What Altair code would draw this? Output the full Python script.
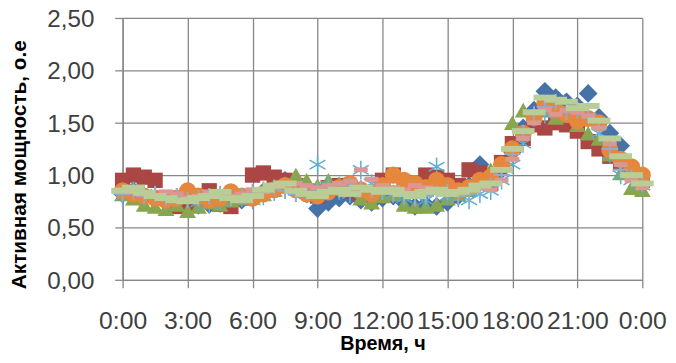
import altair as alt
import pandas as pd

# time grid (hours, half-hour steps)
hours = [i * 0.5 for i in range(49)]

s1_diamond = [0.82,0.85,0.80,0.78,0.74,0.72,0.70,0.71,0.72,0.73,
              0.74,0.76,0.80,0.84,0.90,0.95,0.88,0.82,0.68,0.74,
              0.78,0.80,0.76,0.74,0.78,0.80,0.74,0.70,0.72,0.70,
              0.74,0.80,0.90,1.10,0.98,1.05,1.22,1.45,1.62,1.80,
              1.74,1.70,1.66,1.78,1.55,1.40,1.28,1.05,0.92]
s2_square = [0.95,1.00,0.98,0.95,0.78,0.70,0.72,0.80,0.85,0.72,
             0.70,0.78,1.00,1.02,0.98,0.95,0.90,0.85,0.80,0.88,
             0.90,0.85,0.82,0.80,0.95,1.00,0.92,0.88,1.00,0.98,
             0.95,0.90,1.05,1.02,0.92,1.12,1.30,1.35,1.48,1.45,
             1.50,1.48,1.42,1.32,1.25,1.18,1.12,1.05,0.95]
s3_triangle = [0.82,0.78,0.72,0.70,0.68,0.72,0.66,0.70,0.74,0.72,
               0.76,0.78,0.80,0.82,0.86,0.92,1.00,0.95,0.90,0.95,
               0.92,0.88,0.78,0.74,0.80,0.82,0.72,0.70,0.70,0.72,
               0.78,0.82,0.86,0.95,1.05,1.12,1.50,1.62,1.58,1.62,
               1.55,1.57,1.48,1.40,1.35,1.20,1.02,0.88,0.86]
s5_star = [0.80,0.85,0.82,0.78,0.75,0.78,0.80,0.74,0.72,0.75,
           0.80,0.78,0.76,0.80,0.84,0.88,0.85,0.82,1.10,0.90,
           0.85,0.82,1.05,0.92,0.88,0.82,0.78,0.80,0.76,1.08,
           0.80,0.78,0.76,0.82,0.85,0.95,1.10,1.30,1.55,1.58,
           1.62,1.60,1.58,1.55,1.40,1.20,1.00,0.95,0.90]
s6_circle = [0.85,0.82,0.80,0.78,0.76,0.78,0.85,0.80,0.76,0.78,
             0.84,0.80,0.78,0.82,0.86,0.90,0.86,0.82,0.80,0.84,
             0.88,0.92,0.86,0.82,0.90,1.00,0.95,0.92,0.88,0.95,
             0.90,0.85,0.88,0.95,0.98,1.10,1.25,1.40,1.55,1.68,
             1.62,1.58,1.52,1.54,1.50,1.24,1.15,1.08,1.00]
s7_plus = [0.82,0.84,0.80,0.82,0.78,0.80,0.76,0.78,0.80,0.82,
           0.78,0.80,0.84,0.86,0.88,0.85,0.82,0.84,0.86,0.88,
           0.86,0.90,0.88,0.86,0.84,0.82,0.80,0.78,0.80,0.82,
           0.84,0.80,0.82,0.86,0.90,1.00,1.20,1.40,1.58,1.65,
           1.70,1.60,1.62,1.58,1.45,1.25,1.05,0.98,0.92]
s8_dash = [0.86,0.84,0.82,0.80,0.84,0.82,0.78,0.80,0.84,0.82,
           0.80,0.82,0.86,0.84,0.88,0.90,0.92,0.90,0.88,0.90,
           0.92,0.94,1.05,0.96,0.90,0.88,0.86,0.90,0.88,0.86,
           0.84,0.82,0.86,0.88,0.86,0.95,1.15,1.35,1.50,1.62,
           1.58,1.62,1.60,1.56,1.45,1.30,1.10,0.95,0.88]
s9_longdash = [0.85,0.88,0.83,0.80,0.78,0.76,0.75,0.78,0.80,0.84,
               0.78,0.76,0.80,0.86,0.90,0.92,0.85,0.82,0.80,0.84,
               0.86,0.82,0.88,0.86,0.84,0.86,0.82,0.80,0.84,0.86,
               0.82,0.84,0.86,0.90,0.92,1.05,1.25,1.42,1.60,1.74,
               1.72,1.70,1.64,1.66,1.52,1.35,1.18,1.00,0.92]

x_ticks = [0, 3, 6, 9, 12, 15, 18, 21, 24]
y_ticks = [0, 0.5, 1.0, 1.5, 2.0, 2.5]

series = [
    ("s1", s1_diamond), ("s2", s2_square), ("s3", s3_triangle),
    ("s5", s5_star), ("s6", s6_circle), ("s7", s7_plus),
    ("s8", s8_dash), ("s9", s9_longdash),
]
rows = []
for name, vals in series:
    for h, v in zip(hours, vals):
        rows.append({"series": name, "hour": h, "value": v})
df = pd.DataFrame(rows)

x_enc = alt.X("hour:Q",
              scale=alt.Scale(domain=[0, 24], nice=False, zero=False),
              axis=alt.Axis(values=x_ticks, labelExpr="(datum.value % 24) + ':00'",
                            title="Время, ч", labelPadding=21, labelFlush=False,
                            labelOverlap=False, labelFontSize=25,
                            titleX=263, titleY=65, titleFontSize=20,
                            titleBaseline="middle", titleAlign="center"))
y_enc = alt.Y("value:Q",
              scale=alt.Scale(domain=[0, 2.5], nice=False),
              axis=alt.Axis(values=y_ticks,
                            labelExpr="replace(format(datum.value, '.2f'), '.', ',')",
                            title="Активная мощность, о.е", labelPadding=21,
                            labelFontSize=24.5, labelOffset=1.5,
                            titleX=-104, titleY=148, titleAngle=270,
                            titleBaseline="middle", titleAlign="center"))

base = alt.Chart(df).encode(x=x_enc, y=y_enc)

def layer(name, **mark):
    return base.transform_filter(alt.datum.series == name).mark_point(opacity=1, **mark)

chart = alt.layer(
    layer("s1", shape="diamond", filled=True, size=360, color="#4572A7"),
    layer("s2", shape="square", filled=True, size=240, color="#AA4643"),
    layer("s3", shape="triangle-up", filled=True, size=290, color="#89A54E"),
    layer("s5", shape="M0,-1V1M-0.87,-0.5L0.87,0.5M-0.87,0.5L0.87,-0.5",
          filled=False, size=340, strokeWidth=1.5, color="#5AAFD0"),
    layer("s6", shape="circle", filled=True, size=300, color="#E5873C"),
    layer("s7", shape="M-1,0H1M0,-1V1", filled=False, size=270,
          strokeWidth=2, color="#93A9CF"),
    layer("s8", shape="M-1,-0.35H1V0.35H-1Z", filled=True, size=196, color="#D99795"),
    layer("s9", shape="M-1,-0.26H1V0.26H-1Z", filled=True, size=529, color="#B9CD96"),
).properties(
    width=526, height=265,
    autosize=alt.AutoSizeParams(type="none"),
    padding={"left": 116, "top": 8, "right": 26, "bottom": 74},
).configure_view(strokeWidth=0).configure_axis(
    gridColor="#878787", gridWidth=1.3, domainColor="#878787", domainWidth=1.3,
    tickColor="#878787", tickSize=8, tickWidth=1.3,
    labelFont="Liberation Sans", labelColor="#404040",
    titleFont="Liberation Sans", titleFontSize=21, titleFontWeight="bold",
    titleColor="#000000",
)

chart.save("out.html", embed_options={"renderer": "svg", "actions": False})
